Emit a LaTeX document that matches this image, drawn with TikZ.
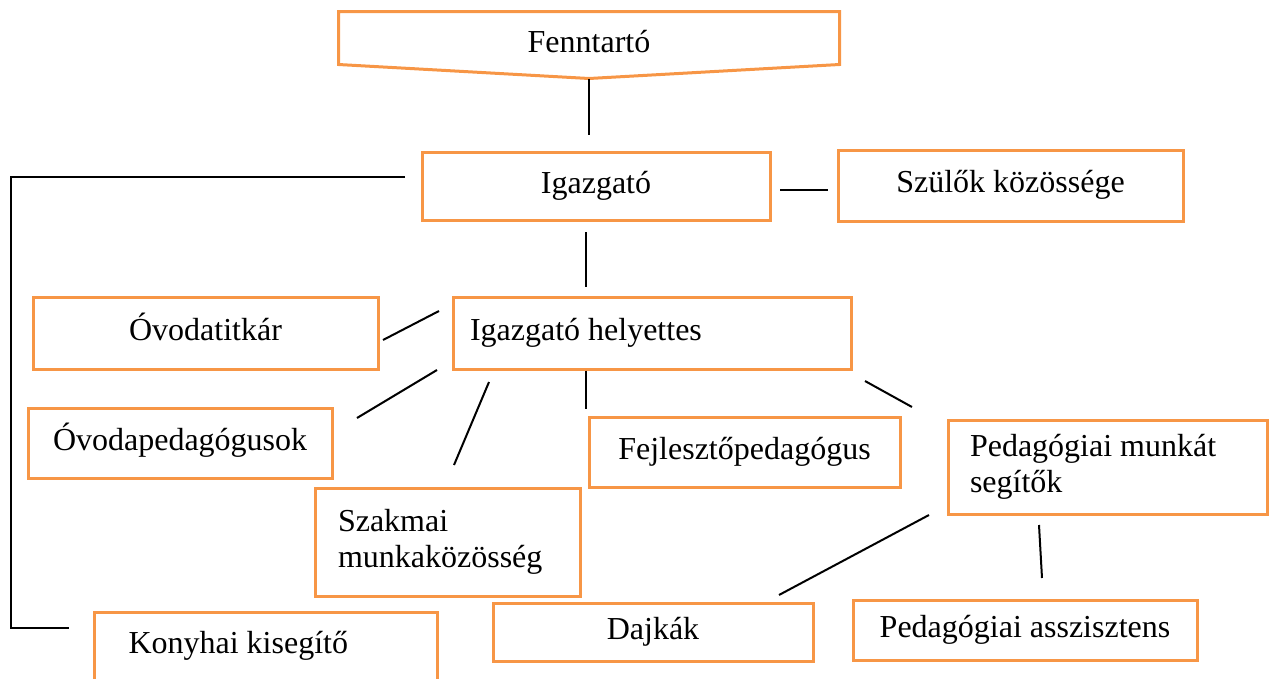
\documentclass[tikz,border=0pt]{standalone}
\usepackage{fontspec}
\setmainfont{Liberation Serif}
\usetikzlibrary{calc}
\definecolor{boxorange}{HTML}{F79646}
\begin{document}
\begin{tikzpicture}[x=1pt,y=-1pt,
  box/.style={draw=boxorange, line width=3pt, rectangle, inner sep=0pt,
    font=\fontsize{32}{37}\selectfont, text height=22pt, text depth=8pt},
  mbox/.style={draw=boxorange, line width=3pt, rectangle, inner sep=0pt,
    font=\fontsize{32}{36}\selectfont, align=flush left},
  conn/.style={draw=black, line width=2pt}]
\useasboundingbox (0,0) rectangle (1269,678);

% nodes
\node[box, draw=none, minimum width=498pt, minimum height=64pt] (fenn) at (589,45) {Fenntartó};
\draw[boxorange, line width=3pt, line join=miter] (fenn.north west) -- (fenn.north east)
  -- ([yshift=14pt]fenn.south east) -- (fenn.south) -- ([yshift=14pt]fenn.south west) -- cycle;

\node[box, minimum width=348pt, minimum height=68pt] (igaz) at (596,186) {Igazgató};
\node[box, minimum width=345pt, minimum height=71pt] (szul) at (1010.5,185.5) {Szülők közössége};
\node[box, minimum width=345pt, minimum height=72pt] (titk) at (205.5,333) {Óvodatitkár};
\node[box, inner xsep=17pt, text width=364pt, align=flush left, minimum height=72pt] (help) at (652,333) {Igazgató helyettes};
\node[box, inner xsep=25pt, text width=254pt, align=flush left, minimum height=70pt] (opad) at (180,443) {Óvodapedagógusok};
\node[mbox, inner xsep=23pt, text width=219pt, minimum height=108pt] (szak) at (447.5,542) {Szakmai\\munkaközösség};
\node[box, minimum width=311pt, minimum height=70pt] (fejl) at (744.5,452) {Fejlesztőpedagógus};
\node[mbox, inner xsep=22pt, text width=275pt, minimum height=94pt] (pms) at (1107.5,467) {Pedagógiai munkát\\segítők};
\node[box, minimum width=320pt, minimum height=58pt] (dajk) at (653,632) {Dajkák};
\node[box, minimum width=344pt, minimum height=60pt] (assz) at (1025,630) {Pedagógiai asszisztens};
\node[box, anchor=north west, inner ysep=0pt, inner xsep=34pt, text width=275pt, align=flush left,
  text height=41pt, text depth=49pt] (kony) at (93,611) {Konyhai kisegítő};

% connector ends
\coordinate (a1) at (589,135);
\coordinate (b0) at (586,232); \coordinate (b1) at (586,287);
\coordinate (c0) at (780,190); \coordinate (c1) at (828,190);
\coordinate (d0) at (405,177); \coordinate (d1) at (11,177);
\coordinate (d2) at (11,628); \coordinate (d3) at (69,628);
\coordinate (e0) at (383,340); \coordinate (e1) at (439,311);
\coordinate (f0) at (437,370); \coordinate (f1) at (357,418);
\coordinate (g0) at (489,382); \coordinate (g1) at (454,465);
\coordinate (h1) at (586,409);
\coordinate (i0) at (865,381); \coordinate (i1) at (912,407);
\coordinate (j0) at (929,515); \coordinate (j1) at (779,595);
\coordinate (k0) at (1039,525); \coordinate (k1) at (1042,578);

\draw[conn] (fenn.south) -- (a1);
\draw[conn] (b0) -- (b1);
\draw[conn] (c0) -- (c1);
\draw[conn] (d0) -- (d1) -- (d2) -- (d3);
\draw[conn] (e0) -- (e1);
\draw[conn] (f0) -- (f1);
\draw[conn] (g0) -- (g1);
\draw[conn] (help.south -| h1) -- (h1);
\draw[conn] (i0) -- (i1);
\draw[conn] (j0) -- (j1);
\draw[conn] (k0) -- (k1);
\end{tikzpicture}
\end{document}
